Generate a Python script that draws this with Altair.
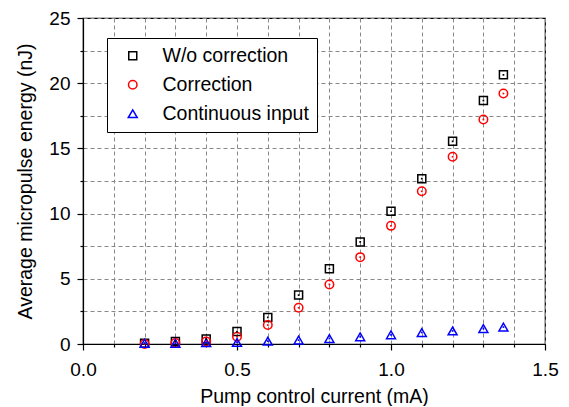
import altair as alt
import pandas as pd

current = [0.2, 0.3, 0.4, 0.5, 0.6, 0.7, 0.8, 0.9, 1.0, 1.1, 1.2, 1.3, 1.365]
wo_correction = [0.05, 0.2, 0.38, 0.95, 2.04, 3.75, 5.77, 7.83, 10.18, 12.68, 15.54, 18.67, 20.64]
correction = [0.0, 0.08, 0.2, 0.56, 1.45, 2.78, 4.57, 6.66, 9.06, 11.71, 14.36, 17.22, 19.21]
continuous = [0.05, 0.05, 0.1, 0.12, 0.22, 0.3, 0.42, 0.55, 0.7, 0.88, 1.0, 1.18, 1.3]

series = ["W/o correction", "Correction", "Continuous input"]
colors = ["black", "red", "blue"]
shapes = ["square", "circle", "triangle-up"]
sizes = [64, 80, 100]

rows = []
for name, vals in zip(series, [wo_correction, correction, continuous]):
    for x, y in zip(current, vals):
        rows.append({"current": x, "energy": y, "series": name})
df = pd.DataFrame(rows)

x_vals = [round(i * 0.1, 1) for i in range(16)]
y_vals = [i * 2.5 for i in range(11)]

font = "Liberation Sans"

x_major = "abs(datum.value*2 - round(datum.value*2)) < 0.001"
y_major = "abs(datum.value/5 - round(datum.value/5)) < 0.001"

x_enc = alt.X("current:Q", scale=alt.Scale(domain=[0, 1.5], nice=False),
              axis=alt.Axis(title="Pump control current (mA)", values=x_vals, tickCount=40,
                            labelExpr=x_major + " ? format(datum.value, '.1f') : ''",
                            labelOverlap=False, labelFlush=False,
                            tickSize={"condition": {"test": x_major, "value": 6}, "value": 3},
                            labelPadding=10, titlePadding=8))
y_enc = alt.Y("energy:Q", scale=alt.Scale(domain=[0, 25], nice=False),
              axis=alt.Axis(title="Average micropulse energy (nJ)", values=y_vals, tickCount=40,
                            labelExpr=y_major + " ? format(datum.value, 'd') : ''",
                            labelOverlap=False, labelFlush=False,
                            tickSize={"condition": {"test": y_major, "value": 6}, "value": 3},
                            labelPadding=7, titlePadding=13))

color = alt.Color("series:N", scale=alt.Scale(domain=series, range=colors),
                  legend=alt.Legend(title=None, orient="none", legendX=24, legendY=20,
                                    labelFont=font, labelFontSize=19.5, labelColor="black",
                                    symbolSize=70, symbolStrokeWidth=1.5, rowPadding=8,
                                    padding=8, strokeColor="black", fillColor="white",
                                    labelOffset=20, symbolOffset=8))
shape = alt.Shape("series:N", scale=alt.Scale(domain=series, range=shapes), legend=None)
size = alt.Size("series:N", scale=alt.Scale(domain=series, range=sizes), legend=None)

pts = alt.Chart(df).mark_point(filled=False, strokeWidth=1.5, opacity=1).encode(
    x=x_enc, y=y_enc, color=color, shape=shape, size=size)
dots = alt.Chart(df).mark_point(filled=True, size=3, opacity=1, shape="square").encode(
    x="current:Q", y="energy:Q",
    fill=alt.Fill("series:N", scale=alt.Scale(domain=series, range=colors), legend=None))

chart = (pts + dots).resolve_scale(fill="independent").properties(
    width=462, height=326,
    autosize=alt.AutoSizeParams(type="none"),
    padding={"left": 75, "top": 10, "right": 16, "bottom": 62},
).configure_view(stroke="black", strokeWidth=1.2).configure_axis(
    grid=True, gridColor="#888888", gridDash=[4, 3], gridWidth=1,
    domainColor="black", domainWidth=1.2, tickColor="black", tickWidth=1.2,
    labelFont=font, labelFontSize=19, labelColor="black",
    titleFont=font, titleFontSize=19.5, titleFontWeight="normal", titleColor="black",
)

chart.save("out.html", embed_options={"renderer": "svg", "actions": False})
